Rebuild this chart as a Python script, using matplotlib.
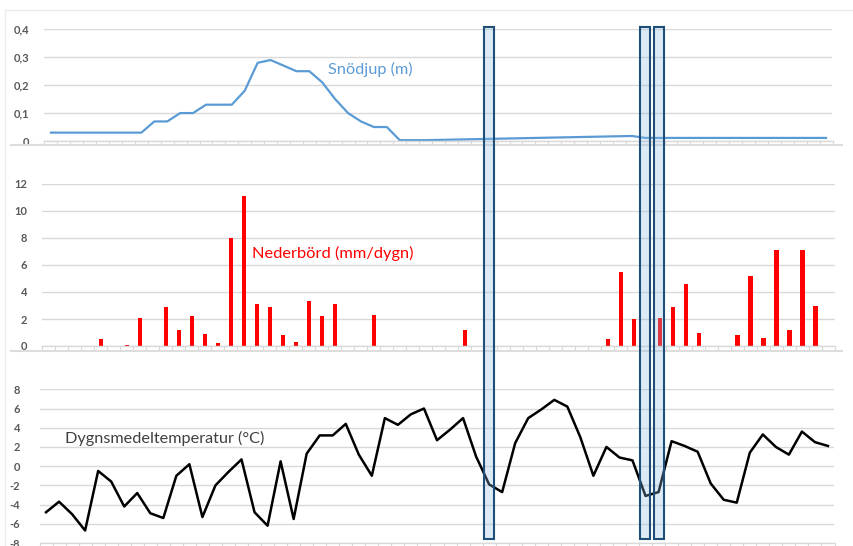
import numpy as np
import matplotlib
matplotlib.use("Agg")
import matplotlib.pyplot as plt
from matplotlib.lines import Line2D
from matplotlib.patches import Rectangle
from matplotlib.transforms import blended_transform_factory

plt.rcParams['font.family'] = ['Lato', 'DejaVu Sans']

# --- data (one value per day, 61 days) ---
dagar = np.arange(61)

# snödjup (m), nan = no reading (Excel connects the gaps)
snodjup = [0.03, 0.03, 0.03, 0.03, 0.03, 0.03, 0.03, 0.03, 0.07, 0.07,
           0.10, 0.10, 0.13, 0.13, 0.13, 0.18, 0.28, 0.29, 0.27, 0.25,
           0.25, 0.21, 0.15, 0.10, 0.07, 0.05, 0.05, 0.003, 0.003, 0.003,
           np.nan, np.nan, np.nan, np.nan, np.nan, np.nan, np.nan, np.nan, np.nan, np.nan,
           np.nan, np.nan, np.nan, np.nan, np.nan, 0.018, 0.011, np.nan, np.nan, np.nan,
           np.nan, np.nan, np.nan, np.nan, np.nan, np.nan, np.nan, np.nan, np.nan, np.nan,
           0.011]

# nederbörd (mm/dygn)
nederbord = [0, 0, 0, 0, 0.5, 0, 0.1, 2.1, 0, 2.9,
             1.2, 2.2, 0.9, 0.25, 8.0, 11.1, 3.1, 2.9, 0.8, 0.3,
             3.3, 2.2, 3.1, 0, 0, 2.3, 0, 0, 0, 0,
             0, 0, 1.2, 0, 0, 0, 0, 0, 0, 0,
             0, 0, 0, 0.5, 5.5, 2.0, 0, 2.1, 2.9, 4.6,
             1.0, 0, 0, 0.8, 5.2, 0.6, 7.1, 1.2, 7.1, 3.0,
             0]

# dygnsmedeltemperatur (°C)
temperatur = [-4.8, -3.7, -5.0, -6.7, -0.5, -1.6, -4.2, -2.8, -4.9, -5.4,
              -1.0, 0.2, -5.3, -2.0, -0.6, 0.7, -4.8, -6.2, 0.5, -5.5,
              1.3, 3.2, 3.2, 4.4, 1.2, -1.0, 5.0, 4.3, 5.4, 6.0,
              2.7, 3.8, 5.0, 1.0, -1.9, -2.7, 2.4, 5.0, 5.9, 6.9,
              6.2, 3.0, -1.0, 2.0, 0.9, 0.6, -3.1, -2.7, 2.6, 2.1,
              1.5, -1.8, -3.5, -3.8, 1.4, 3.3, 2.0, 1.2, 3.6, 2.5,
              2.1]

# highlighted days
markerade = [34, 46, 47]

snow_ticks = [0, 0.1, 0.2, 0.3, 0.4]
snow_labels = ['0', '0,1', '0,2', '0,3', '0,4']
prec_ticks = [0, 2, 4, 6, 8, 10, 12]
temp_ticks = [-8, -6, -4, -2, 0, 2, 4, 6, 8]

W, H = 854, 546
fig = plt.figure(figsize=(W / 100, H / 100), dpi=100)
fig.patch.set_facecolor('white')


def box(x0, x1, ytop, ybot):
    # pixel box -> figure fraction rect
    return [x0 / W, 1 - ybot / H, (x1 - x0) / W, (ybot - ytop) / H]


grid_c = '#D9D9D9'
tick_c = '#595959'


def style(ax, yticks, ylabels, ylim, pad):
    ax.set_xlim(-0.5, 60.5)
    ax.set_ylim(*ylim)
    for s in ['top', 'right', 'left']:
        ax.spines[s].set_visible(False)
    ax.spines['bottom'].set_color(grid_c)
    ax.spines['bottom'].set_linewidth(1.0)
    ax.set_xticks(np.arange(-0.5, 61, 1))
    ax.set_xticklabels([])
    ax.tick_params(axis='x', direction='out', length=3, color=grid_c, width=0.8)
    ax.set_yticks(yticks)
    ax.set_yticklabels(ylabels)
    ax.tick_params(axis='y', length=0, pad=pad, labelsize=8, labelcolor=tick_c)
    for lab in ax.get_yticklabels():
        lab.set_fontweight('bold')
    ax.yaxis.grid(True, color=grid_c, linewidth=1.0)
    ax.set_axisbelow(True)
    ax.patch.set_alpha(0)


# top: snödjup
ax1 = fig.add_axes(box(44.5, 832.5, 29.3, 141))
ok = ~np.isnan(np.array(snodjup))
ax1.plot(dagar[ok], np.array(snodjup)[ok], color='#5B9BD5', lw=1.6)
style(ax1, snow_ticks, snow_labels, (0, 0.4), 11)
ax1.text(0.36, 0.636, 'Snödjup (m)', transform=ax1.transAxes, color='#5B9BD5',
         fontsize=11.7, va='center', ha='left')

# middle: nederbörd
ax2 = fig.add_axes(box(42.5, 835, 184, 346))
ax2.bar(dagar, nederbord, width=0.32, color='#FF0000')
style(ax2, prec_ticks, [str(t) for t in prec_ticks], (0, 12), 11)
ax2.text(0.264, 0.574, 'Nederbörd (mm/dygn)', transform=ax2.transAxes, color='#FF0000',
         fontsize=11.8, va='center', ha='left')

# bottom: temperatur
ax3 = fig.add_axes(box(39.5, 834.5, 389.3, 543))
ax3.plot(dagar, temperatur, color='black', lw=1.8)
style(ax3, temp_ticks, [str(t) for t in temp_ticks], (-8, 8), 14)
ax3.text(0.032, 0.683, 'Dygnsmedeltemperatur (°C)', transform=ax3.transAxes,
         color='#404040', fontsize=11.7, va='center', ha='left')

# frame and separators between the charts
def fline(x0, y0, x1, y1, c, lw):
    fig.add_artist(Line2D([x0 / W, x1 / W], [1 - y0 / H, 1 - y1 / H],
                          color=c, lw=lw, transform=fig.transFigure))


fline(5, 10, 854, 10, '#EBEBEB', 1.0)
fline(5, 10, 5, 546, '#EBEBEB', 1.0)
fline(11, 145, 842, 145, '#DDDDDD', 1.5)
fline(11, 351, 842, 351, '#DDDDDD', 1.5)

# highlight rectangles across all three charts (hand-drawn, so slightly off-grid)
trans = blended_transform_factory(ax3.transData, fig.transFigure)
skift = {34: 0.0, 46: -0.05, 47: 0.03}
for d in markerade:
    x0 = d - 0.38 + skift[d]
    r = Rectangle((x0, 1 - 539 / H), 0.76, (539 - 26.5) / H, transform=trans,
                  facecolor=(0.56, 0.74, 0.9, 0.3), edgecolor='#1F4E79', lw=1.5,
                  zorder=5)
    fig.add_artist(r)

fig.savefig('out.png', dpi=100)
